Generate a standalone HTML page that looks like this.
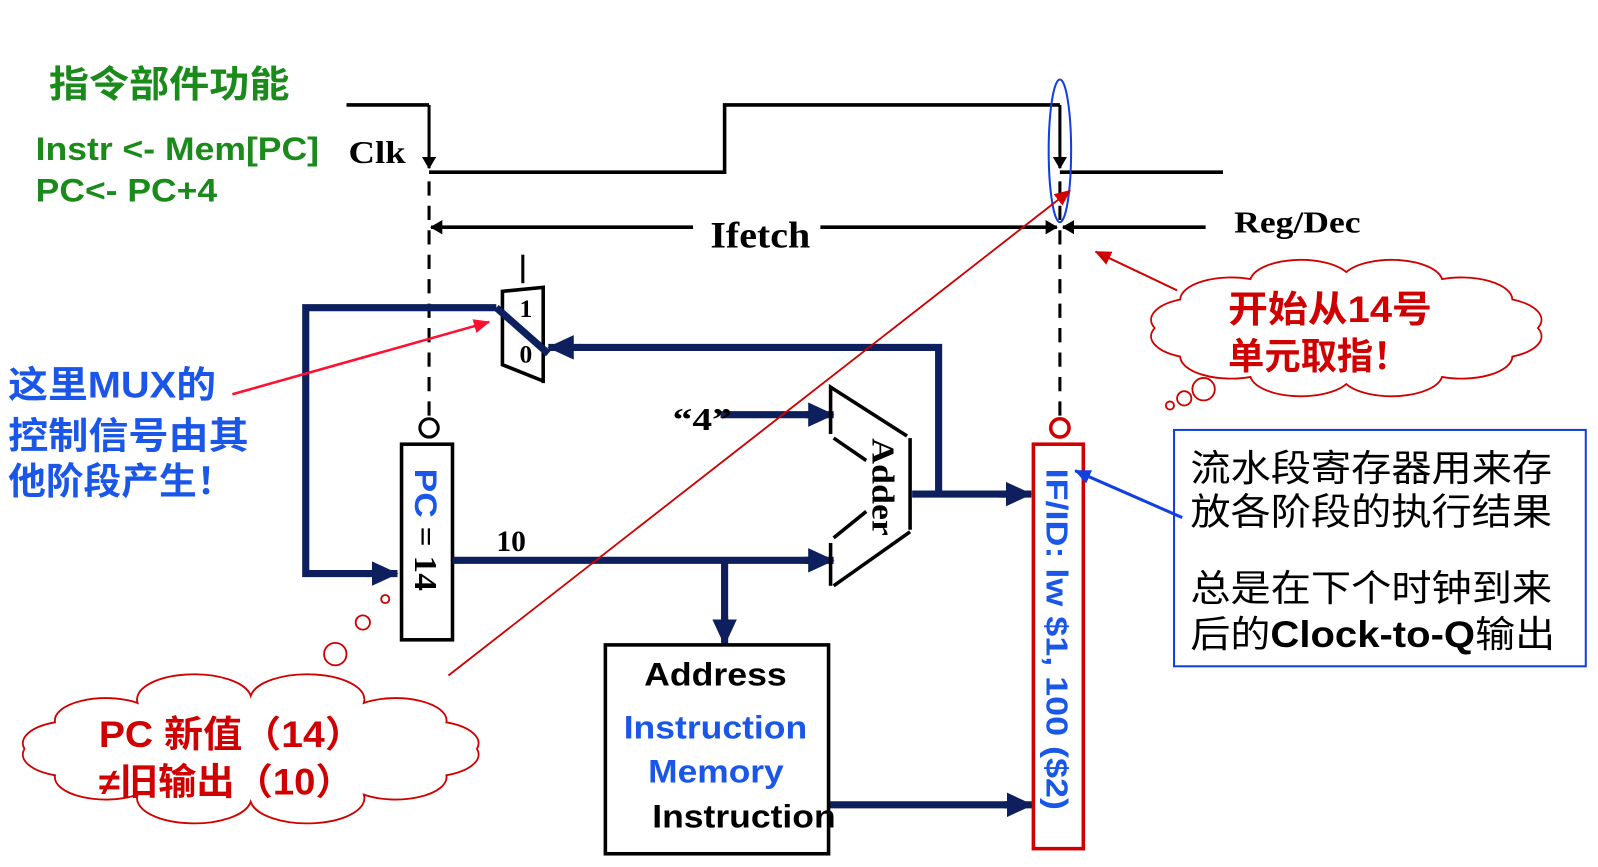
<!DOCTYPE html>
<html><head><meta charset="utf-8"><style>
html,body{margin:0;padding:0;background:#fff;}
svg{display:block}
.cn{font-family:"Liberation Sans","Noto Sans CJK SC",sans-serif;}
.tm{font-family:"Liberation Serif","Noto Serif CJK SC",serif;font-weight:bold;}
</style></head><body>
<svg width="1598" height="867" viewBox="0 0 1568 851" preserveAspectRatio="none" xmlns="http://www.w3.org/2000/svg">
<defs>
<marker id="ab" markerWidth="12" markerHeight="14" refX="11" refY="7" orient="auto" markerUnits="userSpaceOnUse"><path d="M0,0 L12,7 L0,14 z" fill="#000"/></marker>
<marker id="an" markerWidth="26" markerHeight="24" refX="25" refY="12" orient="auto" markerUnits="userSpaceOnUse"><path d="M0,0 L26,12 L0,24 z" fill="#0d1f5c"/></marker>
<marker id="ar" markerWidth="16" markerHeight="14" refX="15" refY="7" orient="auto" markerUnits="userSpaceOnUse"><path d="M0,0 L16,7 L0,14 z" fill="#d00000"/></marker>
<marker id="ar2" markerWidth="16" markerHeight="14" refX="15" refY="7" orient="auto" markerUnits="userSpaceOnUse"><path d="M0,0 L16,7 L0,14 z" fill="#ff1030"/></marker>
<marker id="abl" markerWidth="16" markerHeight="14" refX="15" refY="7" orient="auto" markerUnits="userSpaceOnUse"><path d="M0,0 L16,7 L0,14 z" fill="#1040e0"/></marker>
</defs>

<text x="48" y="95" class="cn" font-size="36" font-weight="bold" fill="#1a8a1a" textLength="236" lengthAdjust="spacingAndGlyphs">指令部件功能</text>
<text x="35" y="157" class="cn" font-size="32" font-weight="bold" fill="#1a8a1a" textLength="278" lengthAdjust="spacingAndGlyphs">Instr &lt;- Mem[PC]</text>
<text x="35" y="198" class="cn" font-size="32" font-weight="bold" fill="#1a8a1a" textLength="178" lengthAdjust="spacingAndGlyphs">PC&lt;- PC+4</text>

<text x="342" y="160" class="tm" font-size="31" textLength="56" lengthAdjust="spacingAndGlyphs">Clk</text>
<g stroke="#000" stroke-width="3.5" fill="none">
<path d="M340,103 H421"/>
<path d="M421,169 H711 V103 H1040"/>
<path d="M1040,169 H1200"/>
</g>
<line x1="421" y1="103" x2="421" y2="165" stroke="#000" stroke-width="3" marker-end="url(#ab)"/>
<line x1="1040" y1="103" x2="1040" y2="165" stroke="#000" stroke-width="3" marker-end="url(#ab)"/>
<ellipse cx="1040" cy="148" rx="11" ry="70" fill="none" stroke="#1040e0" stroke-width="2"/>

<line x1="680" y1="223" x2="423" y2="223" stroke="#000" stroke-width="3.5" marker-end="url(#ab)"/>
<line x1="805" y1="223" x2="1037" y2="223" stroke="#000" stroke-width="3.5" marker-end="url(#ab)"/>
<line x1="1183" y1="223" x2="1043" y2="223" stroke="#000" stroke-width="3.5" marker-end="url(#ab)"/>
<text x="697" y="243" class="tm" font-size="36" textLength="98" lengthAdjust="spacingAndGlyphs">Ifetch</text>
<text x="1211" y="228" class="tm" font-size="30" textLength="124" lengthAdjust="spacingAndGlyphs">Reg/Dec</text>

<line x1="421" y1="178" x2="421" y2="410" stroke="#000" stroke-width="3" stroke-dasharray="14,10"/>
<line x1="1040" y1="178" x2="1040" y2="408" stroke="#000" stroke-width="3" stroke-dasharray="14,10"/>
<line x1="513" y1="250" x2="513" y2="278" stroke="#000" stroke-width="3"/>
<circle cx="421" cy="420" r="9" fill="#fff" stroke="#000" stroke-width="3"/>
<circle cx="1040" cy="420" r="9" fill="#fff" stroke="#d00000" stroke-width="3.5"/>

<path d="M493,293 V286 L533,282 V376 M493,293 V358 L533,374" stroke="#000" stroke-width="3.5" fill="none"/>
<text x="516" y="311" class="tm" font-size="25" font-weight="normal" text-anchor="middle">1</text>
<text x="516" y="356" class="tm" font-size="25" font-weight="normal" text-anchor="middle">0</text>

<rect x="394" y="436" width="50" height="192" fill="#fff" stroke="#000" stroke-width="3.5"/>
<text transform="translate(407,460) rotate(90)" class="cn" font-size="31" font-weight="bold" textLength="120" lengthAdjust="spacingAndGlyphs"><tspan fill="#1a56e8">PC</tspan><tspan fill="#000" class="tm"> = 14</tspan></text>

<g stroke="#0d1f5c" stroke-width="7" fill="none" stroke-linejoin="miter">
<path d="M487,302 H300 V563 H362"/>
<path d="M487,302 L538,347"/>
<path d="M921,485 V341 H568"/>
<path d="M895,485 H990"/>
<path d="M707,407 H795"/>
<path d="M444,550 H795"/>
<path d="M711,550 V612"/>
<path d="M813,790 H990"/>
</g>
<line x1="360" y1="563" x2="390" y2="563" stroke="#0d1f5c" stroke-width="7" marker-end="url(#an)"/>
<line x1="570" y1="341" x2="538" y2="341" stroke="#0d1f5c" stroke-width="7" marker-end="url(#an)"/>
<line x1="980" y1="485" x2="1012" y2="485" stroke="#0d1f5c" stroke-width="7" marker-end="url(#an)"/>
<line x1="790" y1="407" x2="818" y2="407" stroke="#0d1f5c" stroke-width="7" marker-end="url(#an)"/>
<line x1="790" y1="550" x2="818" y2="550" stroke="#0d1f5c" stroke-width="7" marker-end="url(#an)"/>
<line x1="711" y1="605" x2="711" y2="633" stroke="#0d1f5c" stroke-width="7" marker-end="url(#an)"/>
<line x1="985" y1="790" x2="1013" y2="790" stroke="#0d1f5c" stroke-width="7" marker-end="url(#an)"/>
<text x="660" y="422" class="tm" font-size="31" textLength="58" lengthAdjust="spacingAndGlyphs">“4”</text>
<text x="487" y="541" class="tm" font-size="29">10</text>

<g stroke="#000" stroke-width="3.5" fill="none">
<path d="M815,426 V380 L890,428"/>
<path d="M893,430 V520"/>
<path d="M893,522 L818,575"/>
<path d="M815,575 V533"/>
<path d="M818,430 L850,452"/>
<path d="M850,502 L818,528"/>
</g>
<text transform="translate(856,430) rotate(90)" class="tm" font-size="31" textLength="96" lengthAdjust="spacingAndGlyphs">Adder</text>

<rect x="594" y="633" width="219" height="205" fill="none" stroke="#000" stroke-width="3.5"/>
<text x="632" y="673" class="cn" font-size="32" font-weight="bold" textLength="140" lengthAdjust="spacingAndGlyphs">Address</text>
<text x="612" y="725" class="cn" font-size="32" font-weight="bold" fill="#1a56e8" textLength="180" lengthAdjust="spacingAndGlyphs">Instruction</text>
<text x="636" y="768" class="cn" font-size="32" font-weight="bold" fill="#1a56e8" textLength="133" lengthAdjust="spacingAndGlyphs">Memory</text>
<text x="640" y="812" class="cn" font-size="32" font-weight="bold" textLength="180" lengthAdjust="spacingAndGlyphs">Instruction</text>

<rect x="1014" y="436" width="49" height="397" fill="none" stroke="#d00000" stroke-width="3.5"/>
<text transform="translate(1027,460) rotate(90)" class="cn" font-size="30" font-weight="bold" fill="#1a56e8" textLength="335" lengthAdjust="spacingAndGlyphs">IF/ID: lw $1, 100 ($2)</text>

<line x1="440" y1="663" x2="1050" y2="187" stroke="#d00000" stroke-width="1.8" marker-end="url(#ar)"/>
<line x1="1155" y1="285" x2="1075" y2="247" stroke="#d00000" stroke-width="2" marker-end="url(#ar)"/>
<line x1="228" y1="387" x2="480" y2="316" stroke="#ff1030" stroke-width="2.5" marker-end="url(#ar2)"/>
<line x1="1160" y1="508" x2="1055" y2="462" stroke="#1040e0" stroke-width="3" marker-end="url(#abl)"/>

<text x="8" y="390" class="cn" font-size="36" font-weight="bold" fill="#1a56e8" textLength="204" lengthAdjust="spacingAndGlyphs">这里MUX的</text>
<text x="8" y="440" class="cn" font-size="36" font-weight="bold" fill="#1a56e8" textLength="236" lengthAdjust="spacingAndGlyphs">控制信号由其</text>
<text x="8" y="485" class="cn" font-size="36" font-weight="bold" fill="#1a56e8" textLength="222" lengthAdjust="spacingAndGlyphs">他阶段产生！</text>

<rect x="1152" y="422" width="404" height="232" fill="none" stroke="#1040e0" stroke-width="2"/>
<g class="cn" font-size="36" fill="#000">
<text x="1168" y="472" textLength="355" lengthAdjust="spacingAndGlyphs">流水段寄存器用来存</text>
<text x="1168" y="515" textLength="355" lengthAdjust="spacingAndGlyphs">放各阶段的执行结果</text>
<text x="1168" y="590" textLength="355" lengthAdjust="spacingAndGlyphs">总是在下个时钟到来</text>
<text x="1168" y="635" textLength="358" lengthAdjust="spacingAndGlyphs">后的<tspan font-weight="bold">Clock-to-Q</tspan>输出</text>
</g>

<path d="M468,735 A50 22 0 0 1 438,761 A50 22 0 0 1 357,780 A50 22 0 0 1 246,787 A50 22 0 0 1 135,780 A50 22 0 0 1 54,761 A50 22 0 0 1 24,735 A50 22 0 0 1 54,709 A50 22 0 0 1 135,690 A50 22 0 0 1 246,683 A50 22 0 0 1 357,690 A50 22 0 0 1 438,709 A50 22 0 0 1 468,735 z" fill="#fff" stroke="#d00000" stroke-width="1.8"/>
<circle cx="378" cy="588" r="4" fill="none" stroke="#d00000" stroke-width="1.8"/>
<circle cx="356" cy="611" r="7" fill="none" stroke="#d00000" stroke-width="1.8"/>
<circle cx="329" cy="642" r="11" fill="none" stroke="#d00000" stroke-width="1.8"/>
<text x="97" y="733" class="cn" font-size="36" font-weight="bold" fill="#d00000" textLength="260" lengthAdjust="spacingAndGlyphs">PC 新值（14）</text>
<text x="97" y="780" class="cn" font-size="36" font-weight="bold" fill="#d00000" textLength="250" lengthAdjust="spacingAndGlyphs">≠旧输出（10）</text>

<path d="M1509,322 A50 22 0 0 1 1484,350 A50 22 0 0 1 1415,370 A50 22 0 0 1 1321,377 A50 22 0 0 1 1227,370 A50 22 0 0 1 1158,350 A50 22 0 0 1 1133,322 A50 22 0 0 1 1158,294 A50 22 0 0 1 1227,274 A50 22 0 0 1 1321,267 A50 22 0 0 1 1415,274 A50 22 0 0 1 1484,294 A50 22 0 0 1 1509,322 z" fill="#fff" stroke="#d00000" stroke-width="1.8"/>
<circle cx="1148" cy="398" r="4" fill="none" stroke="#d00000" stroke-width="1.8"/>
<circle cx="1162" cy="391" r="7" fill="none" stroke="#d00000" stroke-width="1.8"/>
<circle cx="1181" cy="382" r="11" fill="#fff" stroke="#d00000" stroke-width="1.8"/>
<text x="1205" y="316" class="cn" font-size="36" font-weight="bold" fill="#d00000" textLength="200" lengthAdjust="spacingAndGlyphs">开始从14号</text>
<text x="1205" y="362" class="cn" font-size="36" font-weight="bold" fill="#d00000" textLength="178" lengthAdjust="spacingAndGlyphs">单元取指！</text>
</svg>
</body></html>
